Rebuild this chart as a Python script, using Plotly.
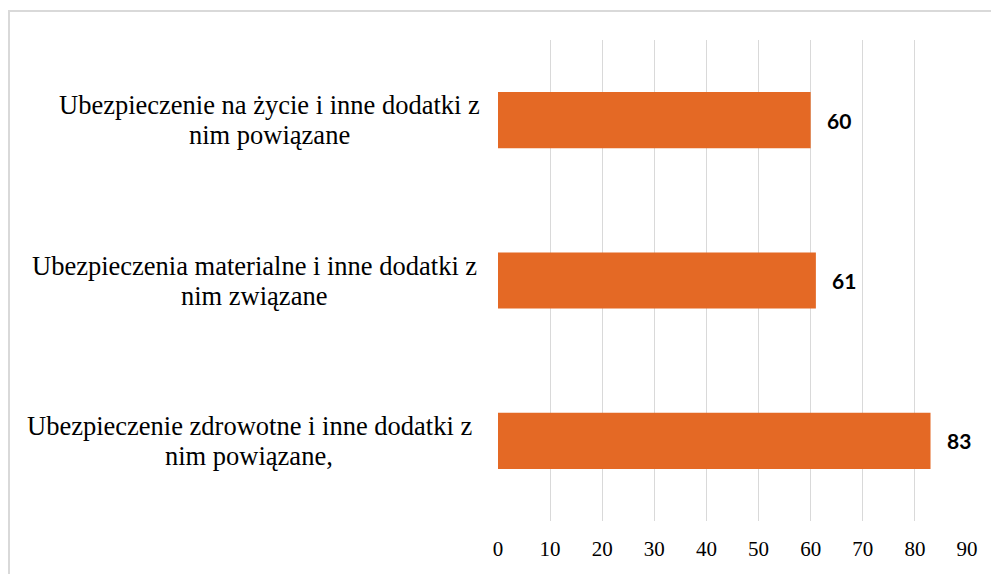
import plotly.graph_objects as go

categories = [
    "Ubezpieczenie na życie i inne dodatki z<br>nim powiązane",
    "Ubezpieczenia materialne i inne dodatki z<br>nim związane",
    "Ubezpieczenie zdrowotne i inne dodatki z<br>nim powiązane,",
]
values = [60, 61, 83]
tick_vals = [0, 10, 20, 30, 40, 50, 60, 70, 80, 90]

BAR = "#E46925"
GRID = "#D9D9D9"

# figure geometry (pixels)
W, H = 999, 574
ML, MR, MT, MB = 490, 40, 32, 61
PW, PH = W - ML - MR, H - MT - MB


def px_x(p):
    return (p - ML) / PW


def px_y(p):
    return (H - MB - p) / PH


# horizontal centre (pixels) of each category label block
label_centres = [261, 246, 241]

fig = go.Figure()
fig.add_trace(go.Bar(
    x=values, y=categories, orientation="h",
    marker=dict(color=BAR, line=dict(width=0)),
    width=0.35, hoverinfo="skip",
))

annotations = []
for c, v, cx in zip(categories, values, label_centres):
    annotations.append(dict(
        x=v, y=c, xref="x", yref="y", text=f"<b>{v}</b>", showarrow=False,
        xanchor="left", xshift=14,
        font=dict(family="Lato", size=21, color="#000000"),
    ))
    lines = c.split("<br>")
    for i, line in enumerate(lines):
        annotations.append(dict(
            x=px_x(cx), y=c, xref="paper", yref="y", text=line, showarrow=False,
            xanchor="center", yanchor="middle", yshift=15 - 30 * i,
            font=dict(family="Liberation Serif", size=26.5, color="#000000"),
        ))

fig.add_trace(go.Scatter(x=[None], y=[None], showlegend=False))

fig.update_layout(
    width=W, height=H,
    margin=dict(l=ML, r=MR, t=MT, b=MB),
    paper_bgcolor="white", plot_bgcolor="white",
    showlegend=False,
    xaxis=dict(
        range=[0, 90], tickvals=tick_vals, showgrid=True, gridcolor=GRID, gridwidth=1,
        zeroline=False, showline=False, ticks="", ticklabelstandoff=13,
        tickfont=dict(family="Liberation Serif", size=21, color="#000000"),
    ),
    yaxis=dict(
        autorange="reversed", showticklabels=False, showgrid=False,
        zeroline=False, showline=False, ticks="",
    ),
    annotations=annotations,
    shapes=[dict(
        type="rect", xref="paper", yref="paper",
        x0=px_x(1), x1=px_x(W + 20), y0=px_y(H + 20), y1=px_y(3),
        line=dict(color=GRID, width=2), fillcolor="rgba(0,0,0,0)", layer="below",
    )],
)

fig.write_html("out.html")
